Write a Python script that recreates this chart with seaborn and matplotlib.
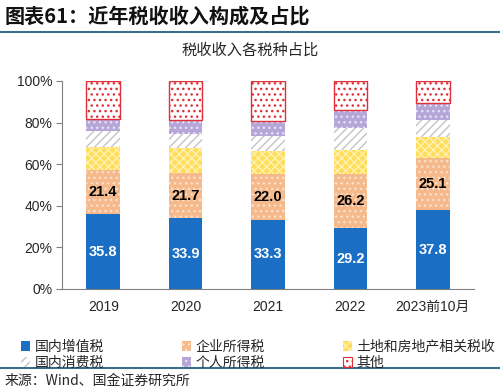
import numpy as np
import pandas as pd
import seaborn as sns
import matplotlib.pyplot as plt
from matplotlib.patches import Patch
from matplotlib.lines import Line2D

years = ['2019', '2020', '2021', '2022', '2023前10月']
vat = [35.8, 33.9, 33.3, 29.2, 37.8]
corp = [21.4, 21.7, 22.0, 26.2, 25.1]
land = [11.2, 12.0, 11.2, 11.4, 10.0]
consumption = [7.3, 6.9, 7.1, 10.4, 8.4]
personal = [5.9, 6.8, 7.2, 8.9, 8.3]
other = [18.4, 18.7, 19.2, 13.9, 10.4]

sns.set_style('white')
plt.rcParams['font.family'] = ['Liberation Sans', 'Noto Sans CJK SC', 'DejaVu Sans']
plt.rcParams['hatch.linewidth'] = 1.0

df = pd.DataFrame({'year': years, '国内增值税': vat, '企业所得税': corp,
                   '土地和房地产相关税收': land, '国内消费税': consumption,
                   '个人所得税': personal, '其他': other})

# name, face, hatch colour, hatch, border
styles = [
    ('国内增值税', '#1A6FC4', '#1A6FC4', None, 0),
    ('企业所得税', '#F6B98B', '#FBE0CB', '...', 0),
    ('土地和房地产相关税收', '#FFDC5A', '#FFF1B0', 'xxxx', 0),
    ('国内消费税', '#FFFFFF', '#C4C4C4', '////', 0),
    ('个人所得税', '#B6A6D8', '#E8E0F4', '...', 0),
    ('其他', '#FFFFFF', '#E0303A', '...', 1.0),
]

fig = plt.figure(figsize=(5, 3.91), dpi=100)
ax = fig.add_axes([0.124, 0.261, 0.824, 0.532])

bottom = np.zeros(len(years))
handles = {}
for name, face, hc, hatch, lw in styles:
    sns.barplot(data=df, x='year', y=name, order=years, ax=ax, bottom=bottom,
                color=face, saturation=1, width=0.41, edgecolor=hc,
                linewidth=lw, hatch=hatch)
    handles[name] = Patch(facecolor=face, edgecolor=hc, hatch=hatch, linewidth=0.8 if lw else 0)
    bottom = bottom + df[name].values

for i in range(len(years)):
    ax.text(i, vat[i] / 2, f'{vat[i]:.1f}', ha='center', va='center',
            color='white', fontsize=10.5, fontweight='bold')
    ax.text(i, vat[i] + corp[i] / 2, f'{corp[i]:.1f}', ha='center', va='center',
            color='black', fontsize=10.5, fontweight='bold')

ax.set_ylim(0, 100)
ax.set_xlim(-0.5, 4.5)
ax.set_yticks(range(0, 101, 20))
ax.set_yticklabels([f'{v}%' for v in range(0, 101, 20)], fontsize=10)
ax.set_xticks(range(len(years)))
ax.set_xticklabels(years, fontsize=10)
ax.set_xticks(np.arange(-0.5, 5, 1), minor=True)
ax.tick_params(axis='x', which='major', length=0, pad=8)
ax.tick_params(axis='x', which='minor', length=4, color='#808080', width=0.8)
ax.tick_params(axis='y', length=4, color='#808080', width=0.8, pad=3, left=True)
ax.set_xlabel('')
ax.set_ylabel('')
for s in ['top', 'right']:
    ax.spines[s].set_visible(False)
for s in ['left', 'bottom']:
    ax.spines[s].set_color('#808080')
    ax.spines[s].set_linewidth(0.8)

order = ['国内增值税', '国内消费税', '企业所得税', '个人所得税', '土地和房地产相关税收', '其他']
leg = fig.legend([handles[n] for n in order], order, ncol=3, loc='upper left',
                 bbox_to_anchor=(0.03, 0.145), frameon=False, fontsize=10,
                 handlelength=0.7, handleheight=0.7, handletextpad=0.3,
                 columnspacing=5.6, labelspacing=0.15, borderaxespad=0)
for t in leg.get_texts():
    t.set_family(['Noto Sans CJK SC'])

fig.text(0.01, 0.958, '图表61：近年税收收入构成及占比', fontsize=14.5, fontweight='bold',
         style='italic', family=['Noto Sans CJK SC'], va='center', color='#111111')
fig.add_artist(Line2D([0.0, 1.0], [0.918, 0.918], color='#3C6E8C', lw=1.5))
fig.text(0.5, 0.872, '税收收入各税种占比', fontsize=11, ha='center', va='center',
         family=['Noto Sans CJK SC'])
fig.add_artist(Line2D([0.0, 1.0], [0.058, 0.058], color='#3C6E8C', lw=1.5))
fig.text(0.01, 0.027, '来源：Wind、国金证券研究所', fontsize=10, va='center',
         family=['Noto Sans CJK SC'])

fig.savefig('out.png', dpi=100)
